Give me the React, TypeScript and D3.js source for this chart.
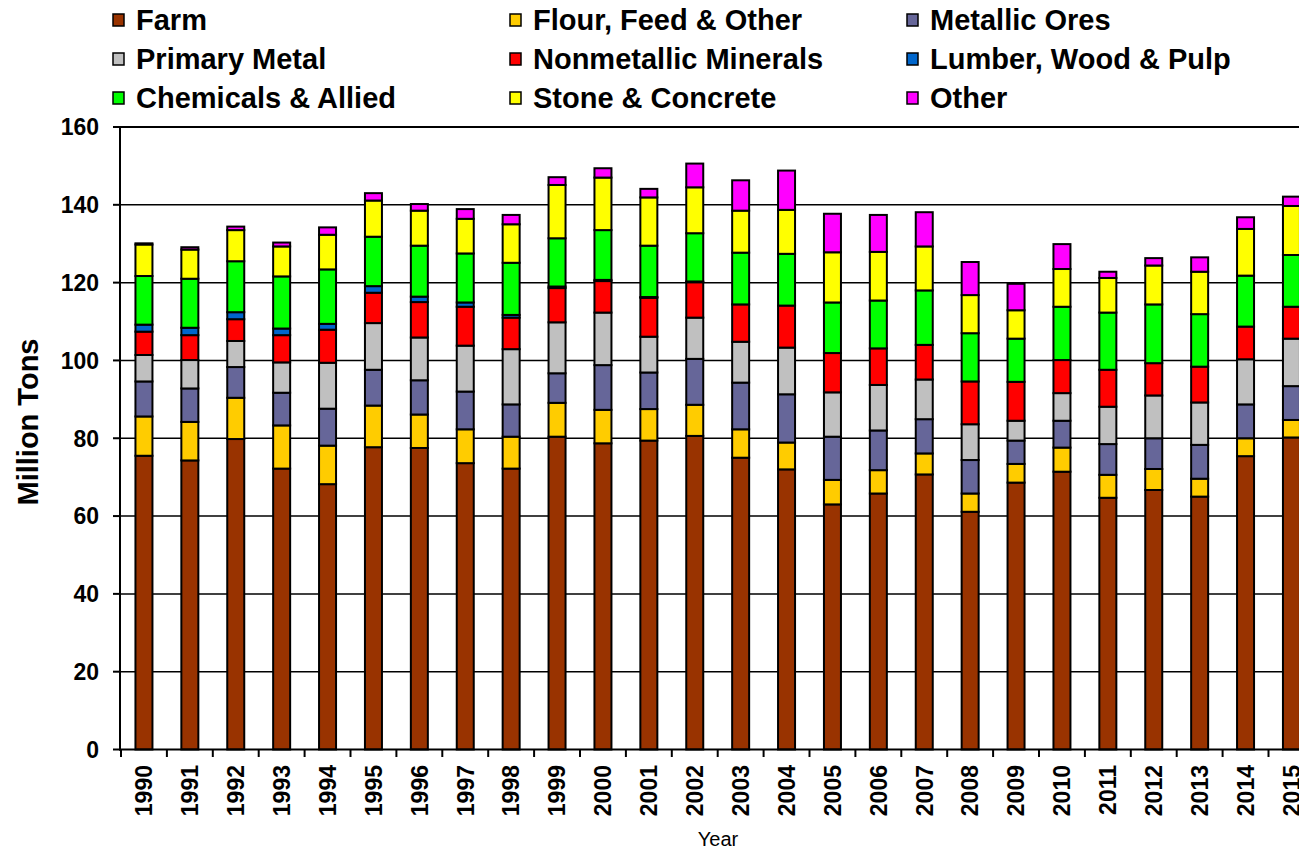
import React from "react";
import * as d3 from "d3";

const years = ["1990","1991","1992","1993","1994","1995","1996","1997","1998","1999","2000","2001","2002","2003","2004","2005","2006","2007","2008","2009","2010","2011","2012","2013","2014","2015"];

const seriesNames = ["Farm","Flour, Feed & Other","Metallic Ores","Primary Metal","Nonmetallic Minerals","Lumber, Wood & Pulp","Chemicals & Allied","Stone & Concrete","Other"];
const seriesColors = ["#993300","#FFCC00","#666699","#C0C0C0","#FF0000","#0066CC","#00FF00","#FFFF00","#FF00FF"];

const farm = [75.5,74.3,79.8,72.2,68.2,77.7,77.5,73.6,72.2,80.4,78.7,79.4,80.6,75.0,72.0,63.0,65.8,70.7,61.1,68.6,71.4,64.7,66.7,65.0,75.4,80.2];
const flour = [10.1,9.9,10.6,11.1,9.9,10.7,8.6,8.7,8.2,8.7,8.6,8.1,8.0,7.3,6.9,6.3,6.0,5.4,4.7,4.8,6.2,5.9,5.4,4.6,4.6,4.5];
const metallic = [9.0,8.6,7.9,8.4,9.5,9.2,8.8,9.7,8.3,7.6,11.5,9.4,11.8,12.0,12.4,11.1,10.2,8.8,8.6,6.0,6.9,7.9,7.9,8.7,8.7,8.7];
const primary = [6.8,7.3,6.7,7.8,11.8,12.0,11.0,11.8,14.2,13.1,13.5,9.2,10.6,10.5,12.0,11.4,11.7,10.2,9.2,5.1,7.1,9.6,11.0,10.9,11.6,12.2];
const nonmetallic = [6.0,6.4,5.6,7.0,8.5,7.8,9.1,10.0,8.1,8.8,8.1,10.0,9.1,9.6,10.8,10.1,9.4,8.9,11.0,10.0,8.5,9.5,8.3,9.2,8.4,8.2];
const lumber = [1.8,1.9,1.8,1.7,1.5,1.7,1.4,1.1,0.7,0.4,0.3,0.2,0.2,0,0,0,0,0,0,0,0,0,0,0,0,0];
const chemicals = [12.5,12.6,13.1,13.4,14.0,12.7,13.1,12.6,13.4,12.4,12.8,13.2,12.4,13.3,13.3,13.0,12.3,14.0,12.4,11.1,13.7,14.7,15.1,13.5,13.1,13.3];
const stone = [8.1,7.5,8.0,7.7,8.9,9.3,9.0,8.9,9.9,13.7,13.5,12.4,11.8,10.8,11.3,12.9,12.5,11.3,9.8,7.3,9.7,8.9,10.0,10.9,12.0,12.6];
const other = [0.3,0.6,0.9,1.0,1.9,1.9,1.7,2.5,2.4,2.0,2.4,2.2,6.1,7.8,10.1,9.9,9.5,8.8,8.5,6.8,6.4,1.6,1.9,3.7,3.0,2.4];

const yTicks = [0,20,40,60,80,100,120,140,160];

const allSeries = [farm, flour, metallic, primary, nonmetallic, lumber, chemicals, stone, other];

export default function App() {
  const W = 1299, H = 849;
  const x0 = 121, step = 45.9;
  const x = d3.scaleBand<string>().domain(years).range([x0, x0 + step * years.length]).paddingInner(0).paddingOuter(0);
  const y = d3.scaleLinear().domain([0, 160]).range([749.5, 127]);

  const rows = years.map((yr, i) => {
    const r: any = { year: yr };
    seriesNames.forEach((s, k) => (r[s] = allSeries[k][i]));
    return r;
  });
  const stacked = d3.stack<any>().keys(seriesNames)(rows);

  const barW = 17;
  const font = "'Liberation Sans', Arial, sans-serif";
  const xEnd = x0 + step * years.length;

  const legendCols = [113, 510, 907];
  const legendRows = [20, 59, 98];

  return (
    <svg width={W} height={H} style={{ position: "absolute", left: 0, top: 0, background: "#fff" }} fontFamily={font}>
      {yTicks.filter(t => t > 0).map(t => (
        <line key={"g" + t} x1={120} x2={xEnd} y1={y(t)} y2={y(t)} stroke="#000" strokeWidth={t === 160 ? 2 : 1.5} />
      ))}
      {stacked.map((layer, k) => (
        <g key={seriesNames[k]} fill={seriesColors[k]}>
          {layer.map((d, i) => {
            const h = y(d[0]) - y(d[1]);
            if (h <= 0.01) return null;
            const cx = (x(years[i]) as number) + step / 2;
            return (
              <rect key={i} x={cx - barW / 2} y={y(d[1])} width={barW} height={h} stroke="#000" strokeWidth={2} />
            );
          })}
        </g>
      ))}
      <line x1={120} x2={120} y1={126} y2={750.5} stroke="#000" strokeWidth={2} />
      <line x1={119} x2={xEnd} y1={749.5} y2={749.5} stroke="#000" strokeWidth={2} />
      {yTicks.map(t => (
        <g key={"yt" + t}>
          <line x1={113} x2={120} y1={y(t)} y2={y(t)} stroke="#000" strokeWidth={2} />
          <text x={99} y={y(t)} dy="0.36em" textAnchor="end" fontSize={23} fontWeight="bold">{t}</text>
        </g>
      ))}
      {years.map((yr, i) => (
        <line key={"xt" + i} x1={x(yr) as number} x2={x(yr) as number} y1={749.5} y2={757} stroke="#000" strokeWidth={2} />
      ))}
      {years.map(yr => {
        const cx = (x(yr) as number) + step / 2;
        return (
          <text key={"xl" + yr} transform={`translate(${cx},765) rotate(-90)`} textAnchor="end" dy="0.36em" fontSize={23} fontWeight="bold">{yr}</text>
        );
      })}
      <text transform={`translate(38,422) rotate(-90)`} textAnchor="middle" fontSize={29} fontWeight="bold">Million Tons</text>
      <text x={718} y={846} textAnchor="middle" fontSize={20}>Year</text>
      {seriesNames.map((s, k) => {
        const col = k % 3, row = Math.floor(k / 3);
        const lx = legendCols[col], ly = legendRows[row];
        return (
          <g key={"lg" + s}>
            <rect x={lx} y={ly - 6} width={11} height={12} fill={seriesColors[k]} stroke="#000" strokeWidth={1.5} />
            <text x={lx + 23} y={ly} dy="0.36em" fontSize={29} fontWeight="bold">{s}</text>
          </g>
        );
      })}
    </svg>
  );
}
